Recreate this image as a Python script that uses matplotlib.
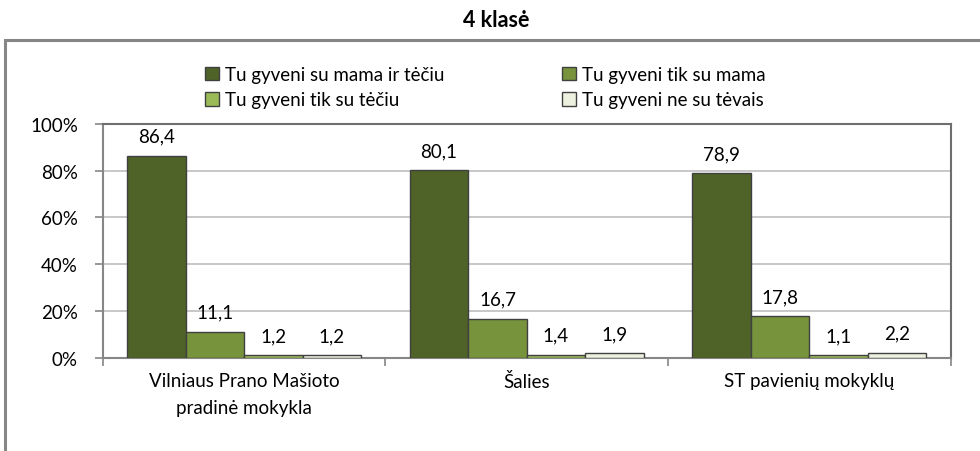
import numpy as np
import matplotlib.pyplot as plt
from matplotlib.patches import Rectangle

plt.rcParams['font.family'] = ['Lato', 'DejaVu Sans']

# Duomenys
kategorijos = ['Vilniaus Prano Mašioto\npradinė mokykla', 'Šalies', 'ST pavienių mokyklų']
serijos = ['Tu gyveni su mama ir tėčiu', 'Tu gyveni tik su mama',
           'Tu gyveni tik su tėčiu', 'Tu gyveni ne su tėvais']
su_abiem = [86.4, 80.1, 78.9]
tik_mama = [11.1, 16.7, 17.8]
tik_tetis = [1.2, 1.4, 1.1]
ne_tevai = [1.2, 1.9, 2.2]
yticks = [0, 20, 40, 60, 80, 100]

spalvos = ['#4F6228', '#77933C', '#9BBB59', '#EBF1DE']
reiksmes = [su_abiem, tik_mama, tik_tetis, ne_tevai]
fs = 13.5

fig = plt.figure(figsize=(9.8, 4.52), dpi=100)
ax = fig.add_axes([0.105, 0.206, 0.865, 0.518])

# remelis aplink diagrama
fig.patches.append(Rectangle((5 / 980, -0.1), 1.1, 1.1 - 41 / 452,
                             transform=fig.transFigure, fill=False,
                             edgecolor='#868686', linewidth=2.2))

x = np.arange(len(kategorijos))
w = 0.207
for i, (vals, col, name) in enumerate(zip(reiksmes, spalvos, serijos)):
    pos = x + (i - 1.5) * w
    bars = ax.bar(pos, vals, w, color=col, edgecolor='#404040', linewidth=1.0,
                  label=name, zorder=3)
    for b, v in zip(bars, vals):
        ax.annotate(f'{v:.1f}'.replace('.', ','), (b.get_x() + w / 2, v),
                    xytext=(0, 8), textcoords='offset points',
                    ha='center', va='bottom', fontsize=fs)

ax.set_xlim(-0.5, 2.5)
ax.set_ylim(0, 100)
ax.set_yticks(yticks)
ax.set_yticklabels([f'{t}%' for t in yticks], fontsize=fs)
ax.yaxis.grid(True, color='#BFBFBF', linewidth=1.2, zorder=0)

ax.set_xticks([-0.5, 0.5, 1.5, 2.5])
ax.set_xticklabels([])
ax.set_xticks(x, minor=True)
ax.set_xticklabels(kategorijos, minor=True, fontsize=fs, linespacing=1.75)
ax.tick_params(axis='x', which='minor', length=0, pad=10)
ax.tick_params(axis='x', which='major', length=6, color='#868686', width=1.2)
ax.tick_params(axis='y', length=6, color='#868686', width=1.2, pad=12)

for s in ['top', 'right']:
    ax.spines[s].set_color('#6E6E6E')
    ax.spines[s].set_linewidth(1.5)
for s in ['left', 'bottom']:
    ax.spines[s].set_color('#868686')
    ax.spines[s].set_linewidth(1.5)

# legenda eilutemis: 1,2 / 3,4
h, l = ax.get_legend_handles_labels()
order = [0, 2, 1, 3]
leg = fig.legend([h[k] for k in order], [l[k] for k in order],
                 loc='center', bbox_to_anchor=(0.495, 0.805), ncol=2,
                 frameon=False, fontsize=fs, handlelength=0.75, handleheight=0.75,
                 handletextpad=0.3, columnspacing=6.3, labelspacing=0.45)
for hh in leg.legend_handles:
    hh.set_edgecolor('#404040')

fig.text(0.506, 0.955, '4 klasė', ha='center', va='center', fontsize=15.5,
         fontweight='bold')

fig.savefig('out.png', dpi=100)
